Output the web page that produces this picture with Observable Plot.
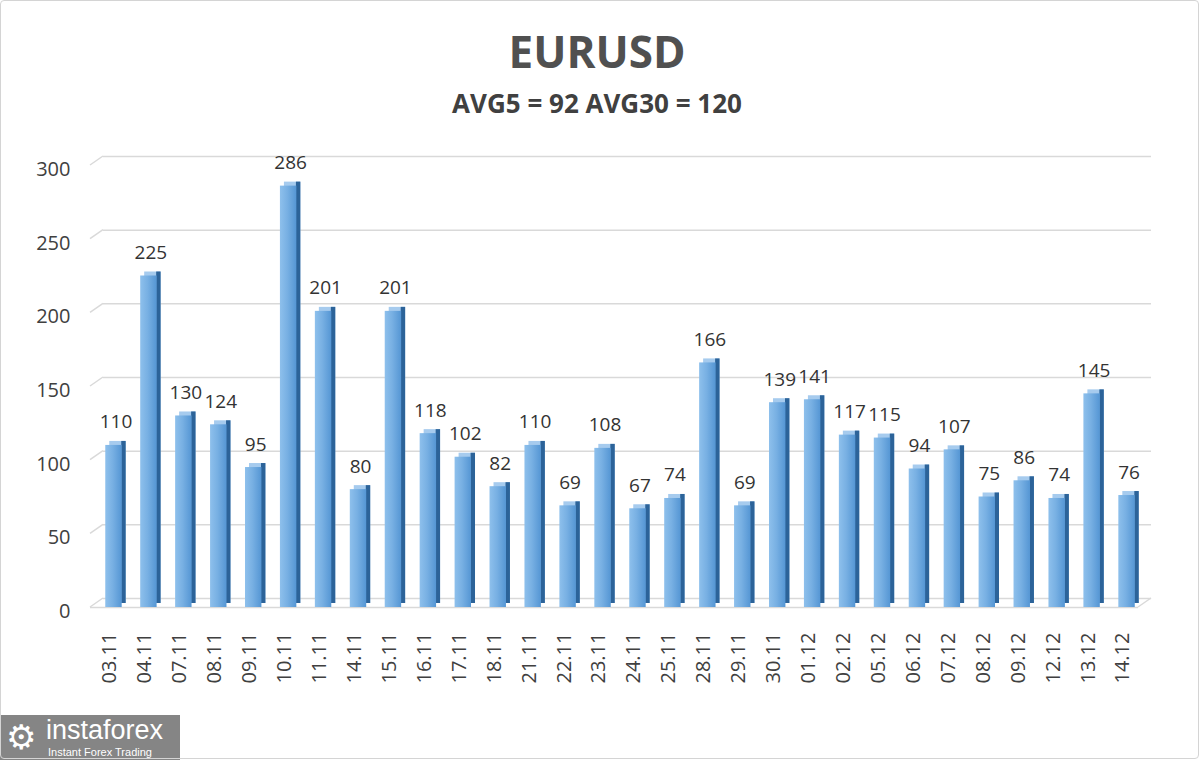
<!DOCTYPE html>
<html>
<head>
<meta charset="utf-8">
<script src="https://cdn.jsdelivr.net/npm/d3@7"></script>
<script src="https://cdn.jsdelivr.net/npm/@observablehq/plot@0.6"></script>
<style>
  html, body { margin: 0; padding: 0; background: #fff; }
  #wrap { position: relative; width: 1200px; height: 760px; overflow: hidden; font-family: "Open Sans", sans-serif; }
  #border { position: absolute; left: 0; top: 0; width: 1197px; height: 757px; border: 1px solid #d4d4d4; border-radius: 4px; pointer-events: none; }
  #title { position: absolute; left: 0; top: 22px; width: 1194px; text-align: center; font-size: 44px; font-weight: 700; color: #505050; line-height: 58px; }
  #subtitle { position: absolute; left: 0; top: 85px; width: 1194px; text-align: center; font-size: 26px; font-weight: 700; color: #404040; line-height: 36px; }
  #chart { position: absolute; left: 0; top: 140px; }
  #logo { position: absolute; left: 0; top: 715px; width: 180px; height: 45px; background: #858585; color: #fff; }
  #logo .gear { position: absolute; display: block; left: 6px; top: 2px; font-size: 34px; line-height: 40px; font-family: "DejaVu Sans", sans-serif; }
  #logo .name { position: absolute; display: block; left: 46px; top: 0px; height: 30px; font-size: 27px; line-height: 30px; font-family: "Liberation Sans", sans-serif; }
  #logo .tag { position: absolute; display: block; left: 48px; top: 31px; height: 13px; font-size: 11px; line-height: 13px; font-family: "Liberation Sans", sans-serif; }
</style>
</head>
<body>
<div id="wrap">
  <div id="title">EURUSD</div>
  <div id="subtitle">AVG5 = 92 AVG30 = 120</div>
  <div id="chart"></div>
  <div id="logo"><div class="gear">⚙</div><div class="name">instaforex</div><div class="tag">Instant Forex Trading</div></div>
  <div id="border"></div>
</div>
<script>
const dates = ["03.11","04.11","07.11","08.11","09.11","10.11","11.11","14.11","15.11","16.11","17.11","18.11","21.11","22.11","23.11","24.11","25.11","28.11","29.11","30.11","01.12","02.12","05.12","06.12","07.12","08.12","09.12","12.12","13.12","14.12"];
const values = [110,225,130,124,95,286,201,80,201,118,102,82,110,69,108,67,74,166,69,139,141,117,115,94,107,75,86,74,145,76];
const yTicks = [0,50,100,150,200,250,300];

const data = dates.map((d, i) => ({date: d, value: values[i]}));

const W = 1200, H = 620, ML = 90, MR = 62, MT = 25, MB = 153;

const chart = Plot.plot({
  width: W,
  height: H,
  marginLeft: ML,
  marginRight: MR,
  marginTop: MT,
  marginBottom: MB,
  style: {fontFamily: "Open Sans, sans-serif", fontSize: "18px", color: "#404040", background: "transparent"},
  x: {type: "band", domain: dates, range: [96, 1144], paddingInner: 0.53, paddingOuter: 0.265, round: false, label: null},
  y: {domain: [0, 300], label: null},
  marks: [
    Plot.ruleY(yTicks, {stroke: "#d9d9d9", strokeWidth: 1.5, dx: 13, dy: -9}),
    Plot.ruleY([0], {stroke: "#d9d9d9", strokeWidth: 1.5}),
    Plot.barY(data, {x: "date", y: "value", fill: "#a6cbee", dx: 4, dy: -4}),
    Plot.barY(data, {x: "date", y: "value", fill: "#2c6399", dx: 4, dy: -4, insetLeft: 12}),
    Plot.barY(data, {x: "date", y: "value", fill: "url(#barGrad)"}),
    Plot.text(data, {x: "date", y: "value", text: d => String(d.value), dx: 2, dy: -17, lineAnchor: "bottom", fontSize: 19, fill: "#333"}),
    Plot.axisY({ticks: yTicks, tickSize: 0, tickPadding: 20, dy: 4, fontSize: 20, label: null}),
    Plot.axisX({tickRotate: -90, tickSize: 0, tickPadding: 25, dx: -4, fontSize: 20, label: null})
  ]
});

const svg = d3.select(chart);
svg.insert("defs", ":first-child").html(`
  <linearGradient id="barGrad" x1="0" y1="0" x2="1" y2="0">
    <stop offset="0%" stop-color="#8ec0ec"/>
    <stop offset="45%" stop-color="#78b0e3"/>
    <stop offset="100%" stop-color="#5596d4"/>
  </linearGradient>`);

// 3D side diagonals of the grid planes, placed with the chart's own y scale
const ys = chart.scale("y");
const g = svg.insert("g", "g").attr("stroke", "#d9d9d9").attr("stroke-width", 1.5);
yTicks.forEach(t => {
  const yy = ys.apply(t);
  g.append("line").attr("x1", ML).attr("y1", yy).attr("x2", ML + 13).attr("y2", yy - 9);
});
const y0 = ys.apply(0);
g.append("line").attr("x1", W - MR).attr("y1", y0).attr("x2", W - MR + 13).attr("y2", y0 - 9);

document.getElementById("chart").appendChild(chart);
</script>
</body>
</html>
